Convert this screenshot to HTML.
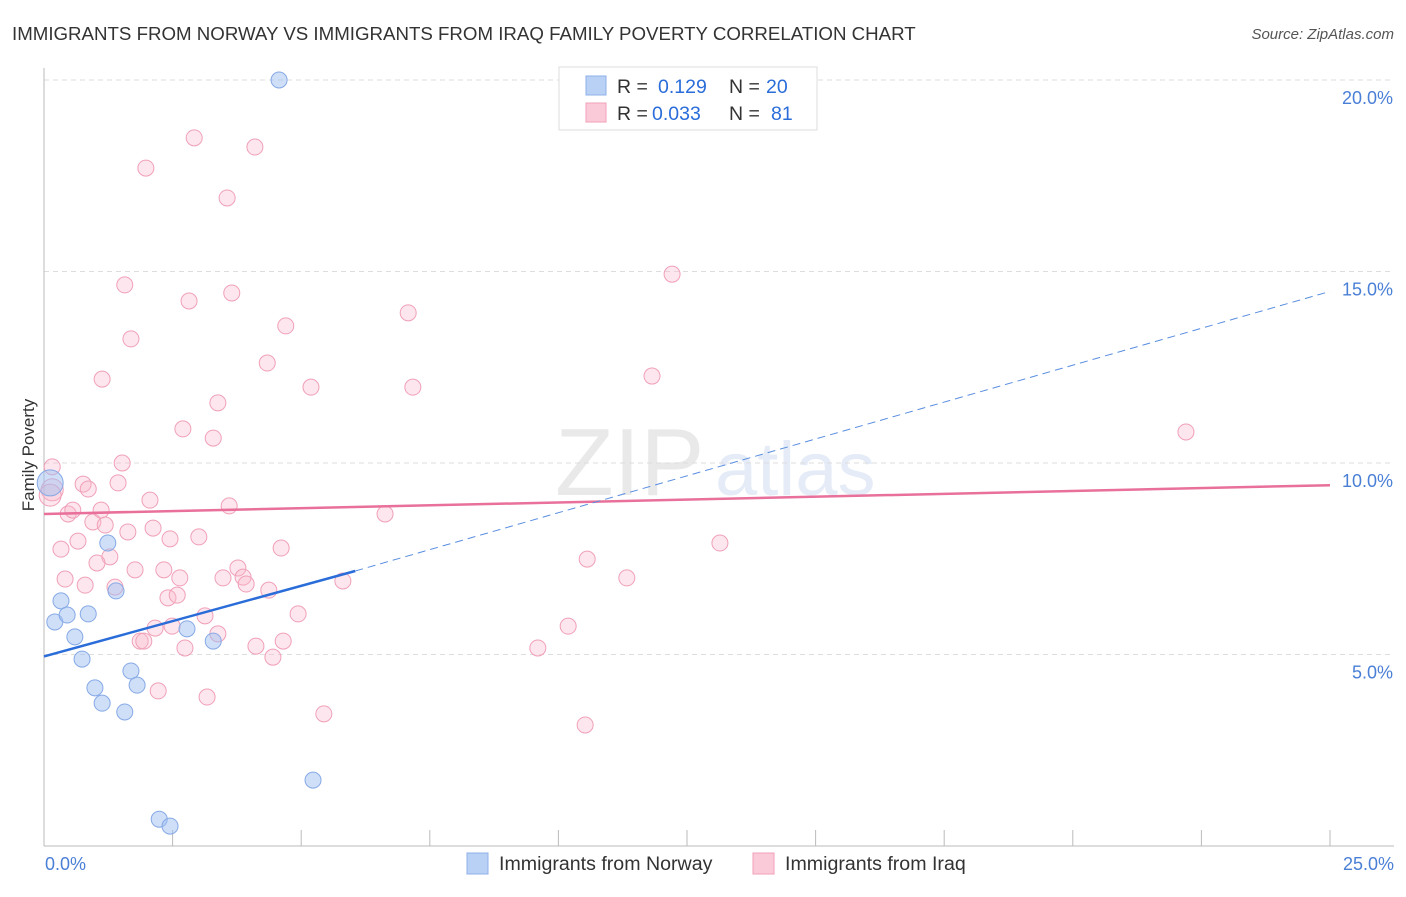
<!DOCTYPE html>
<html><head><meta charset="utf-8"><style>
body{margin:0;background:#fff;font-family:"Liberation Sans",sans-serif;}
svg text{font-family:"Liberation Sans",sans-serif;}
</style></head><body>
<svg id="chart" width="1406" height="892" xmlns="http://www.w3.org/2000/svg">
<text x="12" y="40" font-size="18.7" fill="#333">IMMIGRANTS FROM NORWAY VS IMMIGRANTS FROM IRAQ FAMILY POVERTY CORRELATION CHART</text>
<text x="1394" y="39" font-size="15" fill="#555" text-anchor="end" font-style="italic">Source: ZipAtlas.com</text>
<text x="34" y="455" font-size="17" fill="#333" text-anchor="middle" transform="rotate(-90 34 455)">Family Poverty</text>
<g opacity="0.25">
<text x="555" y="495" font-size="96" fill="#aaa" font-family="Liberation Serif">ZIP</text>
<text x="715" y="495" font-size="76" fill="#9bb8e0">atlas</text>
</g>
<g id="grid"></g><g id="axes"></g><g id="marks"></g>
<g>
<rect x="559" y="67" width="258" height="63" fill="#fff" stroke="#ddd"/>
<rect x="586" y="76" width="20" height="19" fill="#b9d1f5" stroke="#8fb0e8"/>
<rect x="586" y="103" width="20" height="19" fill="#fbcad8" stroke="#f0a0b8"/>
<text x="617" y="93" font-size="19.5" fill="#333">R = <tspan x="658" fill="#2a6dd9">0.129</tspan><tspan x="729">N = </tspan><tspan x="766" fill="#2a6dd9">20</tspan></text>
<text x="617" y="120" font-size="19.5" fill="#333">R = <tspan x="652" fill="#2a6dd9">0.033</tspan><tspan x="729">N = </tspan><tspan x="771" fill="#2a6dd9">81</tspan></text>
</g>
<g>
<rect x="467" y="853" width="21" height="21" fill="#b9d1f5" stroke="#8fb0e8"/>
<text x="499" y="870" font-size="19.6" fill="#333">Immigrants from Norway</text>
<rect x="753" y="853" width="21" height="21" fill="#fbcad8" stroke="#f0a0b8"/>
<text x="785" y="870" font-size="19.6" fill="#333">Immigrants from Iraq</text>
</g>
</svg>
<script>
const yTicks=[5,10,15,20];
const yTickLabels=["5.0%","10.0%","15.0%","20.0%"];
const xTickLabels=["0.0%","25.0%"];
const norwayX=[4.57,0.21,0.33,0.45,0.86,0.60,0.74,0.99,1.13,1.57,1.69,1.81,1.24,1.40,2.78,3.29,5.23,2.24,2.45,0.12];
const norwayY=[20.0,5.85,6.40,6.03,6.06,5.46,4.88,4.13,3.73,3.50,4.57,4.20,7.91,6.66,5.67,5.35,1.72,0.70,0.52,9.48];
const iraqX=[2.92,4.10,1.98,3.56,12.21,1.57,2.82,3.65,7.08,4.70,1.69,4.34,1.13,5.19,7.17,11.82,3.38,2.70,3.29,22.20,1.52,0.16,0.76,1.44,0.86,2.06,3.60,0.47,0.56,1.11,0.95,1.19,2.12,1.63,6.63,0.33,0.66,2.45,3.01,1.28,1.03,4.61,10.56,13.14,0.41,0.80,1.77,2.33,2.64,3.77,3.87,3.48,3.93,11.33,5.81,1.38,2.41,2.59,4.37,3.13,4.94,2.16,2.49,3.38,1.87,1.94,2.74,4.12,4.65,4.45,9.60,10.19,2.22,3.17,5.44,10.52,0.16,0.12];
const iraqY=[18.49,18.25,17.70,16.92,14.93,14.65,14.23,14.44,13.92,13.58,13.24,12.61,12.19,11.98,11.98,12.27,11.57,10.89,10.65,10.81,10.0,9.90,9.45,9.48,9.32,9.03,8.88,8.67,8.77,8.77,8.46,8.38,8.30,8.20,8.67,7.75,7.96,8.02,8.07,7.55,7.39,7.78,7.49,7.91,6.97,6.81,7.21,7.21,7.00,7.26,7.02,7.00,6.84,7.00,6.92,6.76,6.48,6.55,6.68,6.01,6.06,5.69,5.74,5.54,5.35,5.35,5.17,5.22,5.35,4.93,5.17,5.74,4.05,3.89,3.45,3.16,9.30,9.16];
const norwayTrend=[0,4.95,6.05,7.18,25,14.48];
const iraqTrend=[0,8.67,25,9.42];
const NS="http://www.w3.org/2000/svg";
const sx=v=>44+v*51.44, sy=v=>846-v*38.3;
function mk(tag,at,parent){const e=document.createElementNS(NS,tag);for(const k in at)e.setAttribute(k,at[k]);document.getElementById(parent).appendChild(e);return e;}
yTicks.forEach((t,i)=>{
 const g=mk('line',{x1:44,x2:1394,y1:sy(t),y2:sy(t),stroke:'#ddd','stroke-dasharray':'5,4'},'grid');
 
 
 const l=mk('text',{x:1393,y:sy(t)+24,'font-size':18,fill:'#4a7fd6','text-anchor':'end'},'axes');l.textContent=yTickLabels[i];
 
 
});
const ax=mk('line',{x1:44,x2:1394,y1:846,y2:846,stroke:'#bbb'},'axes');


const ay=mk('line',{x1:44,x2:44,y1:68,y2:846,stroke:'#bbb'},'axes');


for(let i=0;i<=10;i++){const t=mk('line',{x1:sx(i*2.5),x2:sx(i*2.5),y1:830,y2:846,stroke:'#bbb'},'axes');
 
 }
[[0,'start',45],[25,'end',1394]].forEach((a,i)=>{const l=mk('text',{x:a[2],y:870,'font-size':18,fill:'#4a7fd6','text-anchor':a[1]},'axes');l.textContent=xTickLabels[i];
 
 });
iraqX.forEach((x,i)=>{const c=mk('circle',{cx:sx(x),cy:sy(iraqY[i]),r:i>=76?11:8,fill:'rgba(248,182,202,0.35)',stroke:'#f0a0b8','stroke-width':1},'marks');
 
 });
norwayX.forEach((x,i)=>{const c=mk('circle',{cx:sx(x),cy:sy(norwayY[i]),r:i==19?13:8,fill:'rgba(160,192,242,0.5)',stroke:'#86a9e6','stroke-width':1},'marks');
 
 });
const it=mk('line',{x1:sx(iraqTrend[0]),y1:sy(iraqTrend[1]),x2:sx(iraqTrend[2]),y2:sy(iraqTrend[3]),stroke:'#e8709a','stroke-width':2.5},'marks');


const nt=mk('line',{x1:sx(norwayTrend[0]),y1:sy(norwayTrend[1]),x2:sx(norwayTrend[2]),y2:sy(norwayTrend[3]),stroke:'#2a6dd9','stroke-width':2.5},'marks');


const nd=mk('line',{x1:sx(norwayTrend[2]),y1:sy(norwayTrend[3]),x2:sx(norwayTrend[4]),y2:sy(norwayTrend[5]),stroke:'#5a8ee0','stroke-width':1,'stroke-dasharray':'8,5'},'marks');


</script>
</body></html>
